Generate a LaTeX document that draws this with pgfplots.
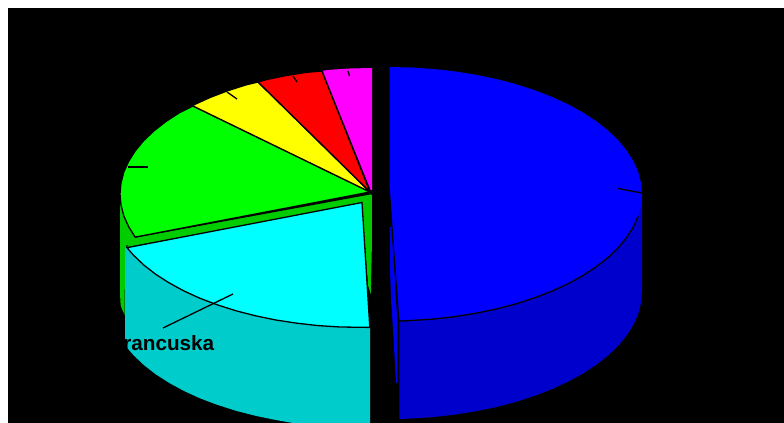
\documentclass[border=0pt]{standalone}
\usepackage{pgfplots}
\pgfplotsset{compat=1.18}
\usepackage{fontspec}
\setmainfont{Liberation Sans}
\definecolor{cblue}{RGB}{0,0,255}
\definecolor{dblue}{RGB}{0,0,204}
\definecolor{mblue}{RGB}{0,0,235}
\definecolor{ccyan}{RGB}{0,255,255}
\definecolor{dcyan}{RGB}{0,204,204}
\definecolor{cgreen}{RGB}{0,255,0}
\definecolor{dgreen}{RGB}{0,204,0}
\definecolor{cyellow}{RGB}{255,255,0}
\definecolor{cred}{RGB}{255,0,0}
\definecolor{cmag}{RGB}{255,0,255}
\begin{document}
\begin{tikzpicture}
\begin{axis}[
  scale only axis, width=784bp, height=423bp,
  xmin=0, xmax=784, ymin=0, ymax=423, y dir=reverse,
  hide axis, clip=true,
  every axis plot/.append style={line width=1.3bp, line join=miter},
]
% page and background
\addplot[fill=white, draw=none] coordinates {(0,0) (784,0) (784,423) (0,423)} --cycle;
\addplot[fill=black, draw=none] coordinates {(8,8) (784,8) (784,423) (8,423)} --cycle;

% green slice: outer side
\addplot[fill=dgreen, draw=none] coordinates {
 (120,194) (120,293) (120.6,305) (122,309) (124.6,315) (125,246) (135,243) (135,230) (125,205)} --cycle;
% green slice: band along its cut edge and inner wedge
\addplot[fill=dgreen, draw=none] coordinates {
 (135.2,237) (370,193.5) (372,195.5) (372,240) (370.8,294) (368,285) (362,203) (127,247)} --cycle;
\addplot[draw=black] coordinates {(135.2,237) (372,193.5)};
\addplot[draw=black] coordinates {(372.5,190) (372.5,300)};
% green top
\addplot[fill=cgreen, draw=black] coordinates {
 (370,192) (193,106) (179,113) (165.6,121.7) (153.8,131) (143.6,140.7) (135.2,150.9) (128.6,161.4)
 (123.8,172.1) (121,183) (120,194) (121,205) (123.8,215.9) (128.6,226.6) (135.2,237.1)} --cycle;
% yellow top
\addplot[fill=cyellow, draw=black] coordinates {
 (370,192) (258,82) (246,84.9) (227.5,90.8) (210,97.5) (193.8,104.9) (193,106)} --cycle;
% red top
\addplot[fill=cred, draw=black] coordinates {
 (370,192) (322,71) (306.8,72.3) (285.8,75.6) (265.5,79.8) (258,82)} --cycle;
% magenta top
\addplot[fill=cmag, draw=none] coordinates {
 (370.5,190) (322,71) (328.2,69.9) (350,68.5) (372,68) (372,190)} --cycle;
\addplot[draw=black] coordinates {(370.5,192) (322,71)};

% cyan slice: side
\addplot[fill=dcyan, draw=none] coordinates {
 (125,246) (125,347) (127,347.7) (133.6,355.3) (143.8,365) (155.6,374.2) (169,382.8) (183.8,390.9)
 (200,398.3) (217.5,404.9) (236,410.8) (255.5,415.8) (275.8,420) (293,423) (370,423) (370,327)
 (340,327) (200,298) (127,247)} --cycle;
% cyan top
\addplot[fill=ccyan, draw=black] coordinates {
 (362,202.5) (369.8,327.4) (340,327) (318.2,325.6) (296.8,323.2) (275.8,320) (255.5,315.8) (236,310.8)
 (217.5,304.9) (200,298.3) (183.8,290.9) (169,282.8) (155.6,274.2) (143.8,265) (133.6,255.3) (127,247.7)} --cycle;

% blue slice: inner face
\addplot[fill=mblue, draw=none] coordinates {
 (389.7,227) (392,227) (394.5,270) (396,300) (397.6,323) (397.3,383) (396,383) (393,330) (391,300) (390,270)} --cycle;
% blue slice: side
\addplot[fill=dblue, draw=none] coordinates {
 (642,194) (642,292) (641,303.1) (638.2,314.1) (633.4,324.9) (626.7,335.4) (618.3,345.7) (608.1,355.5)
 (596.2,364.8) (582.8,373.6) (567.9,381.8) (551.6,389.3) (534.1,396) (515.5,402) (495.9,407.1)
 (475.5,411.3) (454.5,414.7) (432.9,417.1) (411,418.5) (399.3,419) (399.3,320)} --cycle;
% blue top
\addplot[fill=cblue, draw=none] coordinates {
 (389.5,67) (411,67.5) (432.9,68.9) (454.5,71.3) (475.5,74.7) (495.9,78.9) (515.5,84) (534.1,90) (551.6,96.7)
 (567.9,104.2) (582.8,112.4) (596.2,121.2) (608.1,130.5) (618.3,140.3) (626.7,150.6) (633.4,161.1)
 (638.2,171.9) (641,182.9) (642,194) (641,205.1) (638.2,216.1) (633.4,226.9) (626.7,237.4) (618.3,247.7)
 (608.1,257.5) (596.2,266.8) (582.8,275.6) (567.9,283.8) (551.6,291.3) (534.1,298) (515.5,304)
 (495.9,309.1) (475.5,313.3) (454.5,316.7) (432.9,319.1) (411,320.5) (398.8,321) (389.5,190)} --cycle;
% blue top, its drawn edges
\addplot[draw=black] coordinates {(389.2,190) (398.8,321) (411,320.5) (432.9,319.1) (454.5,316.7) (475.5,313.3)
 (495.9,309.1) (515.5,304) (534.1,298) (551.6,291.3) (567.9,283.8) (582.8,275.6) (596.2,266.8) (608.1,257.5)
 (618.3,247.7) (626.7,237.4) (633.4,226.9) (638.2,216.1)};

% leader lines
\addplot[draw=black] coordinates {(618,188.5) (642,193)};
\addplot[draw=black] coordinates {(348,71) (349.5,76)};
\addplot[draw=black] coordinates {(293,76) (297,82)};
\addplot[draw=black] coordinates {(227,92) (237,99)};
\addplot[draw=black] coordinates {(128,167) (148,167)};
\addplot[draw=black] coordinates {(233,294) (163,328)};
\node[anchor=base west, inner sep=0pt, text=black, font=\fontsize{20.8}{24}\selectfont\bfseries]
  at (axis cs:110.4,350) {Francuska};
\end{axis}
\end{tikzpicture}
\end{document}
